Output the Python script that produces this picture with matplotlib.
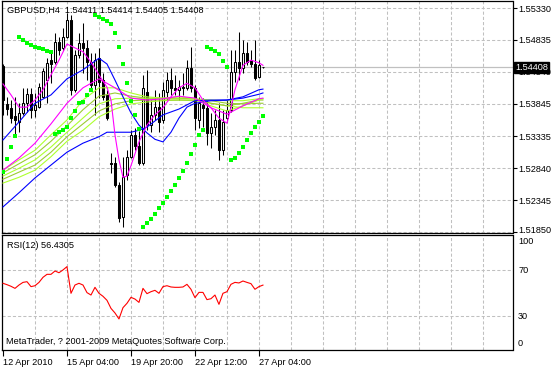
import numpy as np
import matplotlib
matplotlib.use('Agg')
import matplotlib.pyplot as plt
import matplotlib.transforms as mtransforms

plt.rcParams['font.family'] = ['Liberation Sans', 'DejaVu Sans']
plt.rcParams['font.size'] = 6.6

# texts
title = 'GBPUSD,H4  1.54411 1.54414 1.54405 1.54408'
rsi_title = 'RSI(12) 56.4305'
copyright_text = 'MetaTrader, ? 2001-2009 MetaQuotes Software Corp.'

# time axis (H4 bars)
bars = np.arange(66)
date_ticks = [0, 16, 32, 48, 64]
date_labels = ['12 Apr 2010', '15 Apr 04:00', '19 Apr 20:00', '22 Apr 12:00', '27 Apr 04:00']

price_ticks = ['1.55330', '1.54835', '1.54340', '1.53845', '1.53335', '1.52840', '1.52345', '1.51850']
last_price = 1.54408
rsi_ticks = [0, 30, 70, 100]

# OHLC
open_ = [1.5443, 1.5384, 1.5378, 1.5365, 1.5356, 1.5370, 1.5385, 1.5399, 1.5375, 1.5379,
         1.5395, 1.5421, 1.5452, 1.5449, 1.5480, 1.5471, 1.5488, 1.5514, 1.5406, 1.5460,
         1.5479, 1.5471, 1.5449, 1.5413, 1.5455, 1.5421, 1.5398, 1.5292, 1.5292, 1.5258,
         1.5208, 1.5274, 1.5302, 1.5336, 1.5319, 1.5292, 1.5403, 1.5351, 1.5367, 1.5379,
         1.5359, 1.5403, 1.5421, 1.5409, 1.5406, 1.5410, 1.5409, 1.5440, 1.5409, 1.5359,
         1.5382, 1.5378, 1.5339, 1.5348, 1.5359, 1.5312, 1.5362, 1.5375, 1.5434, 1.5449,
         1.5440, 1.5463, 1.5452, 1.5446, 1.5426, 1.54411]
high = [1.5446, 1.5395, 1.5390, 1.5395, 1.5385, 1.5409, 1.5409, 1.5409, 1.5401, 1.5416,
        1.5440, 1.5455, 1.5463, 1.5494, 1.5488, 1.5502, 1.5525, 1.5522, 1.5468, 1.5494,
        1.5510, 1.5483, 1.5463, 1.5463, 1.5471, 1.5432, 1.5406, 1.5308, 1.5302, 1.5263,
        1.5302, 1.5312, 1.5343, 1.5347, 1.5342, 1.5429, 1.5437, 1.5390, 1.5406, 1.5401,
        1.5418, 1.5434, 1.5440, 1.5429, 1.5421, 1.5432, 1.5452, 1.5472, 1.5413, 1.5395,
        1.5393, 1.5390, 1.5370, 1.5375, 1.5385, 1.5375, 1.5390, 1.5468, 1.5468, 1.5496,
        1.5483, 1.5480, 1.5468, 1.5483, 1.5452, 1.54414]
low = [1.5367, 1.5367, 1.5354, 1.5336, 1.5340, 1.5367, 1.5371, 1.5362, 1.5364, 1.5378,
       1.5393, 1.5385, 1.5416, 1.5446, 1.5460, 1.5468, 1.5486, 1.5398, 1.5403, 1.5455,
       1.5432, 1.5421, 1.5409, 1.5367, 1.5393, 1.5390, 1.5359, 1.5277, 1.5255, 1.5201,
       1.5193, 1.5266, 1.5300, 1.5312, 1.5289, 1.5289, 1.5343, 1.5340, 1.5359, 1.5340,
       1.5354, 1.5390, 1.5398, 1.5398, 1.5390, 1.5398, 1.5406, 1.5403, 1.5343, 1.5347,
       1.5348, 1.5320, 1.5316, 1.5336, 1.5297, 1.5305, 1.5356, 1.5371, 1.5418, 1.5421,
       1.5432, 1.5444, 1.5441, 1.5421, 1.5424, 1.54405]
close = [1.5390, 1.5376, 1.5362, 1.5359, 1.5370, 1.5385, 1.5399, 1.5375, 1.5382, 1.5410,
         1.5435, 1.5448, 1.5446, 1.5480, 1.5468, 1.5488, 1.5514, 1.5406, 1.5460, 1.5479,
         1.5471, 1.5449, 1.5413, 1.5452, 1.5418, 1.5395, 1.5362, 1.5291, 1.5258, 1.5207,
         1.5270, 1.5302, 1.5336, 1.5319, 1.5292, 1.5409, 1.5351, 1.5367, 1.5379, 1.5356,
         1.5406, 1.5421, 1.5409, 1.5406, 1.5410, 1.5409, 1.5440, 1.5409, 1.5362, 1.5385,
         1.5378, 1.5339, 1.5348, 1.5359, 1.5312, 1.5356, 1.5375, 1.5434, 1.5449, 1.5440,
         1.5463, 1.5449, 1.5446, 1.5424, 1.5444, 1.54408]

# parabolic SAR
sar = [1.5278, 1.5298, 1.5317, 1.5334,
       1.5488, 1.5483, 1.5479, 1.5476, 1.5472, 1.5471, 1.5469, 1.5466, 1.5465,
       1.5337, 1.5340, 1.5343, 1.5348, 1.5362, 1.5373, 1.5385, 1.5387, 1.5398, 1.5406,
       1.5522, 1.5519, 1.5516, 1.5513, 1.5508, 1.5494, 1.5472, 1.5446, 1.5416, 1.5389, 1.5367, 1.5345,
       1.5193, 1.5199, 1.5205, 1.5213, 1.5222, 1.5230, 1.5239, 1.5249, 1.5258, 1.5269, 1.5280,
       1.5292, 1.5306, 1.5320, 1.5336, 1.5343,
       1.5472, 1.5469, 1.5466, 1.5462, 1.5451, 1.5441,
       1.5297, 1.5300, 1.5308, 1.5317, 1.5328, 1.5339, 1.5348, 1.5356, 1.5365]

# moving averages
fast_ma_bars = [0, 2, 4, 6, 8, 10, 12, 14, 16, 18, 20, 22, 24, 26, 27, 28, 29, 30, 31, 32,
                34, 36, 38, 40, 42, 44, 46, 48, 50, 52, 54, 56, 57, 58, 60, 62, 64, 65]
fast_ma = [1.5415, 1.5398, 1.5379, 1.5379, 1.5390, 1.5406, 1.5429, 1.5452, 1.5477, 1.5471,
           1.5465, 1.5449, 1.5429, 1.5410, 1.5390, 1.5336, 1.5297, 1.5270, 1.5272, 1.5288,
           1.5325, 1.5351, 1.5367, 1.5378, 1.5395, 1.5409, 1.5416, 1.5409, 1.5390, 1.5378,
           1.5362, 1.5354, 1.5378, 1.5406, 1.5444, 1.5452, 1.5448, 1.5444]

slow_bars = [0, 4, 8, 12, 16, 20, 24, 28, 32, 36, 40, 44, 48, 52, 56, 60, 64, 65]
slow_ma = [1.5281, 1.5300, 1.5323, 1.5353, 1.5385, 1.5409, 1.5423, 1.5409, 1.5393,
           1.5390, 1.5392, 1.5396, 1.5393, 1.5378, 1.5368, 1.5381, 1.5392, 1.5393]

blue1_bars = [0, 4, 8, 12, 16, 20, 24, 26, 28, 30, 32, 34, 36, 38, 40, 42, 44, 46, 48,
              52, 56, 60, 64, 65]
blue1 = [1.5328, 1.5356, 1.5385, 1.5398, 1.5423, 1.5437, 1.5455, 1.5446, 1.5421, 1.5395,
         1.5370, 1.5351, 1.5339, 1.5329, 1.5325, 1.5340, 1.5362, 1.5379, 1.5385, 1.5389,
         1.5390, 1.5395, 1.5406, 1.5407]

blue2_bars = [0, 4, 8, 12, 16, 20, 24, 26, 28, 30, 32, 34, 36, 40, 44, 48, 52, 56, 60, 64, 65]
blue2 = [1.5224, 1.5246, 1.5269, 1.5289, 1.5309, 1.5323, 1.5333, 1.5340, 1.5340, 1.5340,
         1.5340, 1.5343, 1.5348, 1.5367, 1.5376, 1.5389, 1.5390, 1.5390, 1.5393, 1.5399, 1.5401]

green1 = [1.5281, 1.5297, 1.5312, 1.5336, 1.5359, 1.5390, 1.5409, 1.5409, 1.5401,
          1.5395, 1.5393, 1.5395, 1.5392, 1.5381, 1.5373, 1.5381, 1.5390, 1.5392]
green2 = [1.5277, 1.5291, 1.5305, 1.5326, 1.5350, 1.5375, 1.5396, 1.5401, 1.5396,
          1.5393, 1.5393, 1.5393, 1.5392, 1.5385, 1.5381, 1.5385, 1.5390, 1.5390]
green3 = [1.5272, 1.5284, 1.5297, 1.5317, 1.5340, 1.5362, 1.5384, 1.5392, 1.5393,
          1.5392, 1.5392, 1.5392, 1.5392, 1.5390, 1.5389, 1.5389, 1.5392, 1.5392]
green4 = [1.5267, 1.5278, 1.5289, 1.5309, 1.5333, 1.5353, 1.5373, 1.5384, 1.5389,
          1.5390, 1.5390, 1.5390, 1.5390, 1.5389, 1.5385, 1.5384, 1.5385, 1.5385]
green5 = [1.5261, 1.5270, 1.5281, 1.5302, 1.5326, 1.5343, 1.5364, 1.5376, 1.5384,
          1.5387, 1.5389, 1.5390, 1.5389, 1.5385, 1.5381, 1.5378, 1.5378, 1.5378]

# RSI(12)
rsi = [58.0, 56.8, 55.4, 53.6, 56.5, 58.8, 59.4, 55.1, 55.9, 58.8,
       63.2, 65.8, 65.8, 68.7, 67.2, 69.6, 72.5, 49.3, 56.5, 58.0,
       56.5, 49.9, 47.8, 54.5, 49.3, 46.7, 43.2, 36.2, 32.2, 27.0,
       36.8, 40.6, 45.8, 44.3, 41.4, 53.6, 49.0, 50.7, 51.9, 49.3,
       55.1, 55.9, 54.8, 54.5, 54.5, 54.8, 57.1, 52.8, 45.5, 50.1,
       50.1, 43.8, 44.6, 47.8, 39.7, 49.3, 50.7, 57.1, 58.8, 58.3,
       60.0, 58.8, 57.7, 52.8, 55.1, 56.43]

W, H = 551, 367
fig = plt.figure(figsize=(W / 100, H / 100), dpi=100)
fig.patch.set_facecolor('white')
ax = fig.add_axes([2 / W, (H - 233) / H, 510.5 / W, 232 / H])
ax2 = fig.add_axes([2 / W, (H - 350) / H, 510.5 / W, 115 / H])

grid_kw = dict(color='#C0C0C0', lw=0.75, ls=(0, (3, 2)), zorder=1)
xlim = (-0.25, 127.4)

# main chart
for gx in np.arange(8, 128, 8):
    ax.axvline(gx, **grid_kw)
    ax2.axvline(gx, **grid_kw)
for t in price_ticks:
    ax.axhline(float(t), **grid_kw)
ax.axhline(last_price, color='#C0C0C0', lw=0.9, zorder=2)

o, h, l, c = map(np.array, (open_, high, low, close))
up = c >= o
ax.vlines(bars, l, h, color='black', lw=0.75, zorder=3)
ax.bar(bars[up], (c - o)[up], bottom=o[up], width=0.5, color='white',
       edgecolor='black', lw=0.75, zorder=4)
ax.bar(bars[~up], (o - c)[~up], bottom=c[~up], width=0.5, color='black',
       edgecolor='black', lw=0.75, zorder=4)

ax.plot(slow_bars, green5, color='#ADFF2F', lw=0.8, zorder=5)
ax.plot(slow_bars, green4, color='#9ACD32', lw=0.8, zorder=5)
ax.plot(slow_bars, green3, color='#ADFF2F', lw=0.8, zorder=5)
ax.plot(slow_bars, green2, color='#9ACD32', lw=0.8, zorder=5)
ax.plot(slow_bars, green1, color='#ADFF2F', lw=0.8, zorder=5)
ax.plot(blue2_bars, blue2, color='#0000FF', lw=0.8, zorder=5)
ax.plot(blue1_bars, blue1, color='#0000FF', lw=0.8, zorder=5)
ax.plot(slow_bars, slow_ma, color='#FF00FF', lw=0.8, zorder=5)
ax.plot(fast_ma_bars, fast_ma, color='#FF00FF', lw=0.8, zorder=5)
ax.plot(bars, sar, 's', color='#00FF00', ms=2.9, mew=0, zorder=6)

ax.set_xlim(*xlim)
ax.set_ylim(1.518344, 1.554388)
ax.set_xticks([])
ax.yaxis.tick_right()
ax.set_yticks([float(t) for t in price_ticks])
ax.set_yticklabels(price_ticks)
ax.tick_params(axis='y', length=3, width=0.8, pad=1.5, colors='black')
# lift the lowest price label a little, as MetaTrader does
lab = ax.get_yticklabels()[-1]
lab.set_transform(lab.get_transform() + mtransforms.ScaledTranslation(0, 0.02, fig.dpi_scale_trans))

tr = mtransforms.blended_transform_factory(ax.transAxes, ax.transData)
ax.text(1.005, last_price, '%.5f' % last_price, transform=tr, color='white',
        ha='left', va='center', zorder=10,
        bbox=dict(boxstyle='square,pad=0.12', fc='black', ec='black'))
ax.text(0.0098, 0.961, title, transform=ax.transAxes, ha='left', va='center')

# RSI
for lv in [30, 70]:
    ax2.axhline(lv, **grid_kw)
ax2.plot(bars, rsi, color='#FF0000', lw=0.8, zorder=5)
ax2.set_xlim(*xlim)
ax2.set_ylim(0, 100)
ax2.yaxis.tick_right()
ax2.set_yticks(rsi_ticks)
ax2.set_yticklabels([str(v) for v in rsi_ticks])
ax2.tick_params(axis='y', length=0, pad=4)
lbls = ax2.get_yticklabels()
lbls[0].set_va('bottom')
lbls[0].set_transform(lbls[0].get_transform() + mtransforms.ScaledTranslation(0, 0.025, fig.dpi_scale_trans))
lbls[-1].set_va('top')
lbls[-1].set_transform(lbls[-1].get_transform() + mtransforms.ScaledTranslation(0, -0.025, fig.dpi_scale_trans))
ax2.set_xticks(date_ticks)
ax2.set_xticklabels(date_labels, ha='left')
ax2.tick_params(axis='x', length=4, width=0.8, pad=1.5, direction='out')
ax2.text(0.0098, 0.913, rsi_title, transform=ax2.transAxes, ha='left', va='center')
ax2.text(0.0078, 0.07, copyright_text, transform=ax2.transAxes, ha='left', va='center')

for a in (ax, ax2):
    for s in a.spines.values():
        s.set_color('black')
        s.set_linewidth(0.9)

plt.savefig('out.png', dpi=100)
